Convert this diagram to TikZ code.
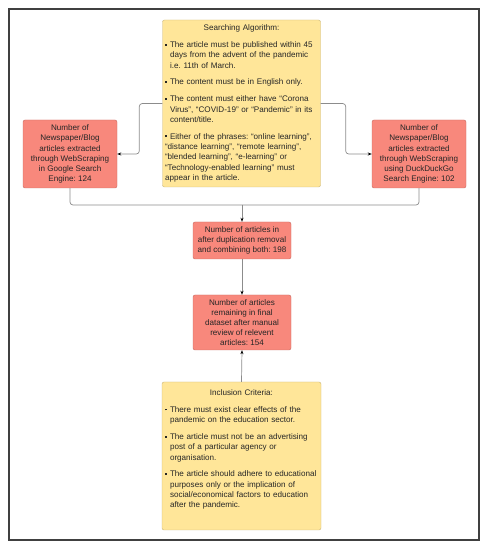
\documentclass[tikz,border=0pt]{standalone}
\usepackage{fontspec}
\setmainfont{Liberation Sans}
\usetikzlibrary{arrows.meta}
\frenchspacing

\definecolor{boxred}{HTML}{F8887C}
\definecolor{boxredline}{HTML}{C46A60}
\definecolor{boxyellow}{HTML}{FFE699}
\definecolor{boxyellowline}{HTML}{C9B577}
\definecolor{wire}{HTML}{8C8C8C}

% one bullet line of a criteria box
\newcommand{\critem}[1]{\par\vspace{6.5pt}\hangindent=5pt\hangafter=1\noindent\makebox[5pt][l]{\rule[2pt]{1.7pt}{1.7pt}}#1}

\tikzset{
  countbox/.style={draw=boxredline, fill=boxred, rounded corners=2pt, text=black!85,
    align=center, font=\fontsize{8.1}{10.1}\selectfont, inner sep=1pt},
  rulebox/.style={draw=boxyellowline, fill=boxyellow, rounded corners=2pt, text=black!85,
    text width=153pt, inner sep=2.5pt, font=\fontsize{8.1}{10.3}\selectfont},
  wireline/.style={draw=wire, line width=0.7pt, rounded corners=3pt},
  wirearrow/.style={wireline, -{Stealth[length=4pt, width=3pt, black]}}
}

\begin{document}
\begin{tikzpicture}[x=1pt, y=1pt]
  \useasboundingbox (0,0) rectangle (488,550);
  \draw[line width=1.6pt, black!75] (9,541) rectangle (479,10);

  \node[rulebox, minimum width=157pt, minimum height=167pt] (algo) at (241.5,446.5) {%
    {\centering Searching Algorithm:\par}\raggedright
    \critem{The article must be published within 45\newline days from the advent of the pandemic\newline i.e. 11th of March.}
    \critem{The content must be in English only.}
    \critem{The content must either have “Corona\newline Virus”, “COVID-19” or “Pandemic” in its\newline content/title.}
    \critem{Either of the phrases: “online learning”,\newline “distance learning”, “remote learning”,\newline “blended learning”, “e-learning” or\newline “Technology-enabled learning” must\newline appear in the article.}};

  \node[countbox, minimum width=94pt, minimum height=68pt] (google) at (70,396)
    {Number of\\Newspaper/Blog\\articles extracted\\through WebScraping\\in Google Search\\Engine: 124};
  \node[countbox, minimum width=94pt, minimum height=68pt] (duck) at (419,396)
    {Number of\\Newspaper/Blog\\articles extracted\\through WebScraping\\using DuckDuckGo\\Search Engine: 102};

  \node[countbox, minimum width=98pt, minimum height=37pt] (merged) at (242,309.5)
    {Number of articles in\\after duplication removal\\and combining both: 198};
  \node[countbox, minimum width=98pt, minimum height=55pt] (final) at (242,227.5)
    {Number of articles\\remaining in final\\dataset after manual\\review of relevent\\articles: 154};

  \node[rulebox, minimum width=159pt, minimum height=148pt] (crit) at (241.5,94) {%
    {\centering Inclusion Criteria:\par}\raggedright
    \critem{There must exist clear effects of the\newline pandemic on the education sector.}
    \critem{The article must not be an advertising\newline post of a particular agency or\newline organisation.}
    \critem{The article should adhere to educational\newline purposes only or the implication of\newline social/economical factors to education\newline after the pandemic.}\par\vspace{4pt}\hbox{}};

  \coordinate (join) at (242,345);

  \draw[wirearrow] (algo.west) -- ++(-23,0) |- (google.east);
  \draw[wirearrow] (algo.east) -- ++(25,0) |- (duck.west);
  \draw[wireline] (google.south) |- (join);
  \draw[wireline] (duck.south) |- (join);
  \draw[wirearrow] (join) -- (merged.north);
  \draw[wirearrow] (merged.south) -- (final.north);
  \draw[wirearrow] (crit.north) -- (final.south);
\end{tikzpicture}
\end{document}
